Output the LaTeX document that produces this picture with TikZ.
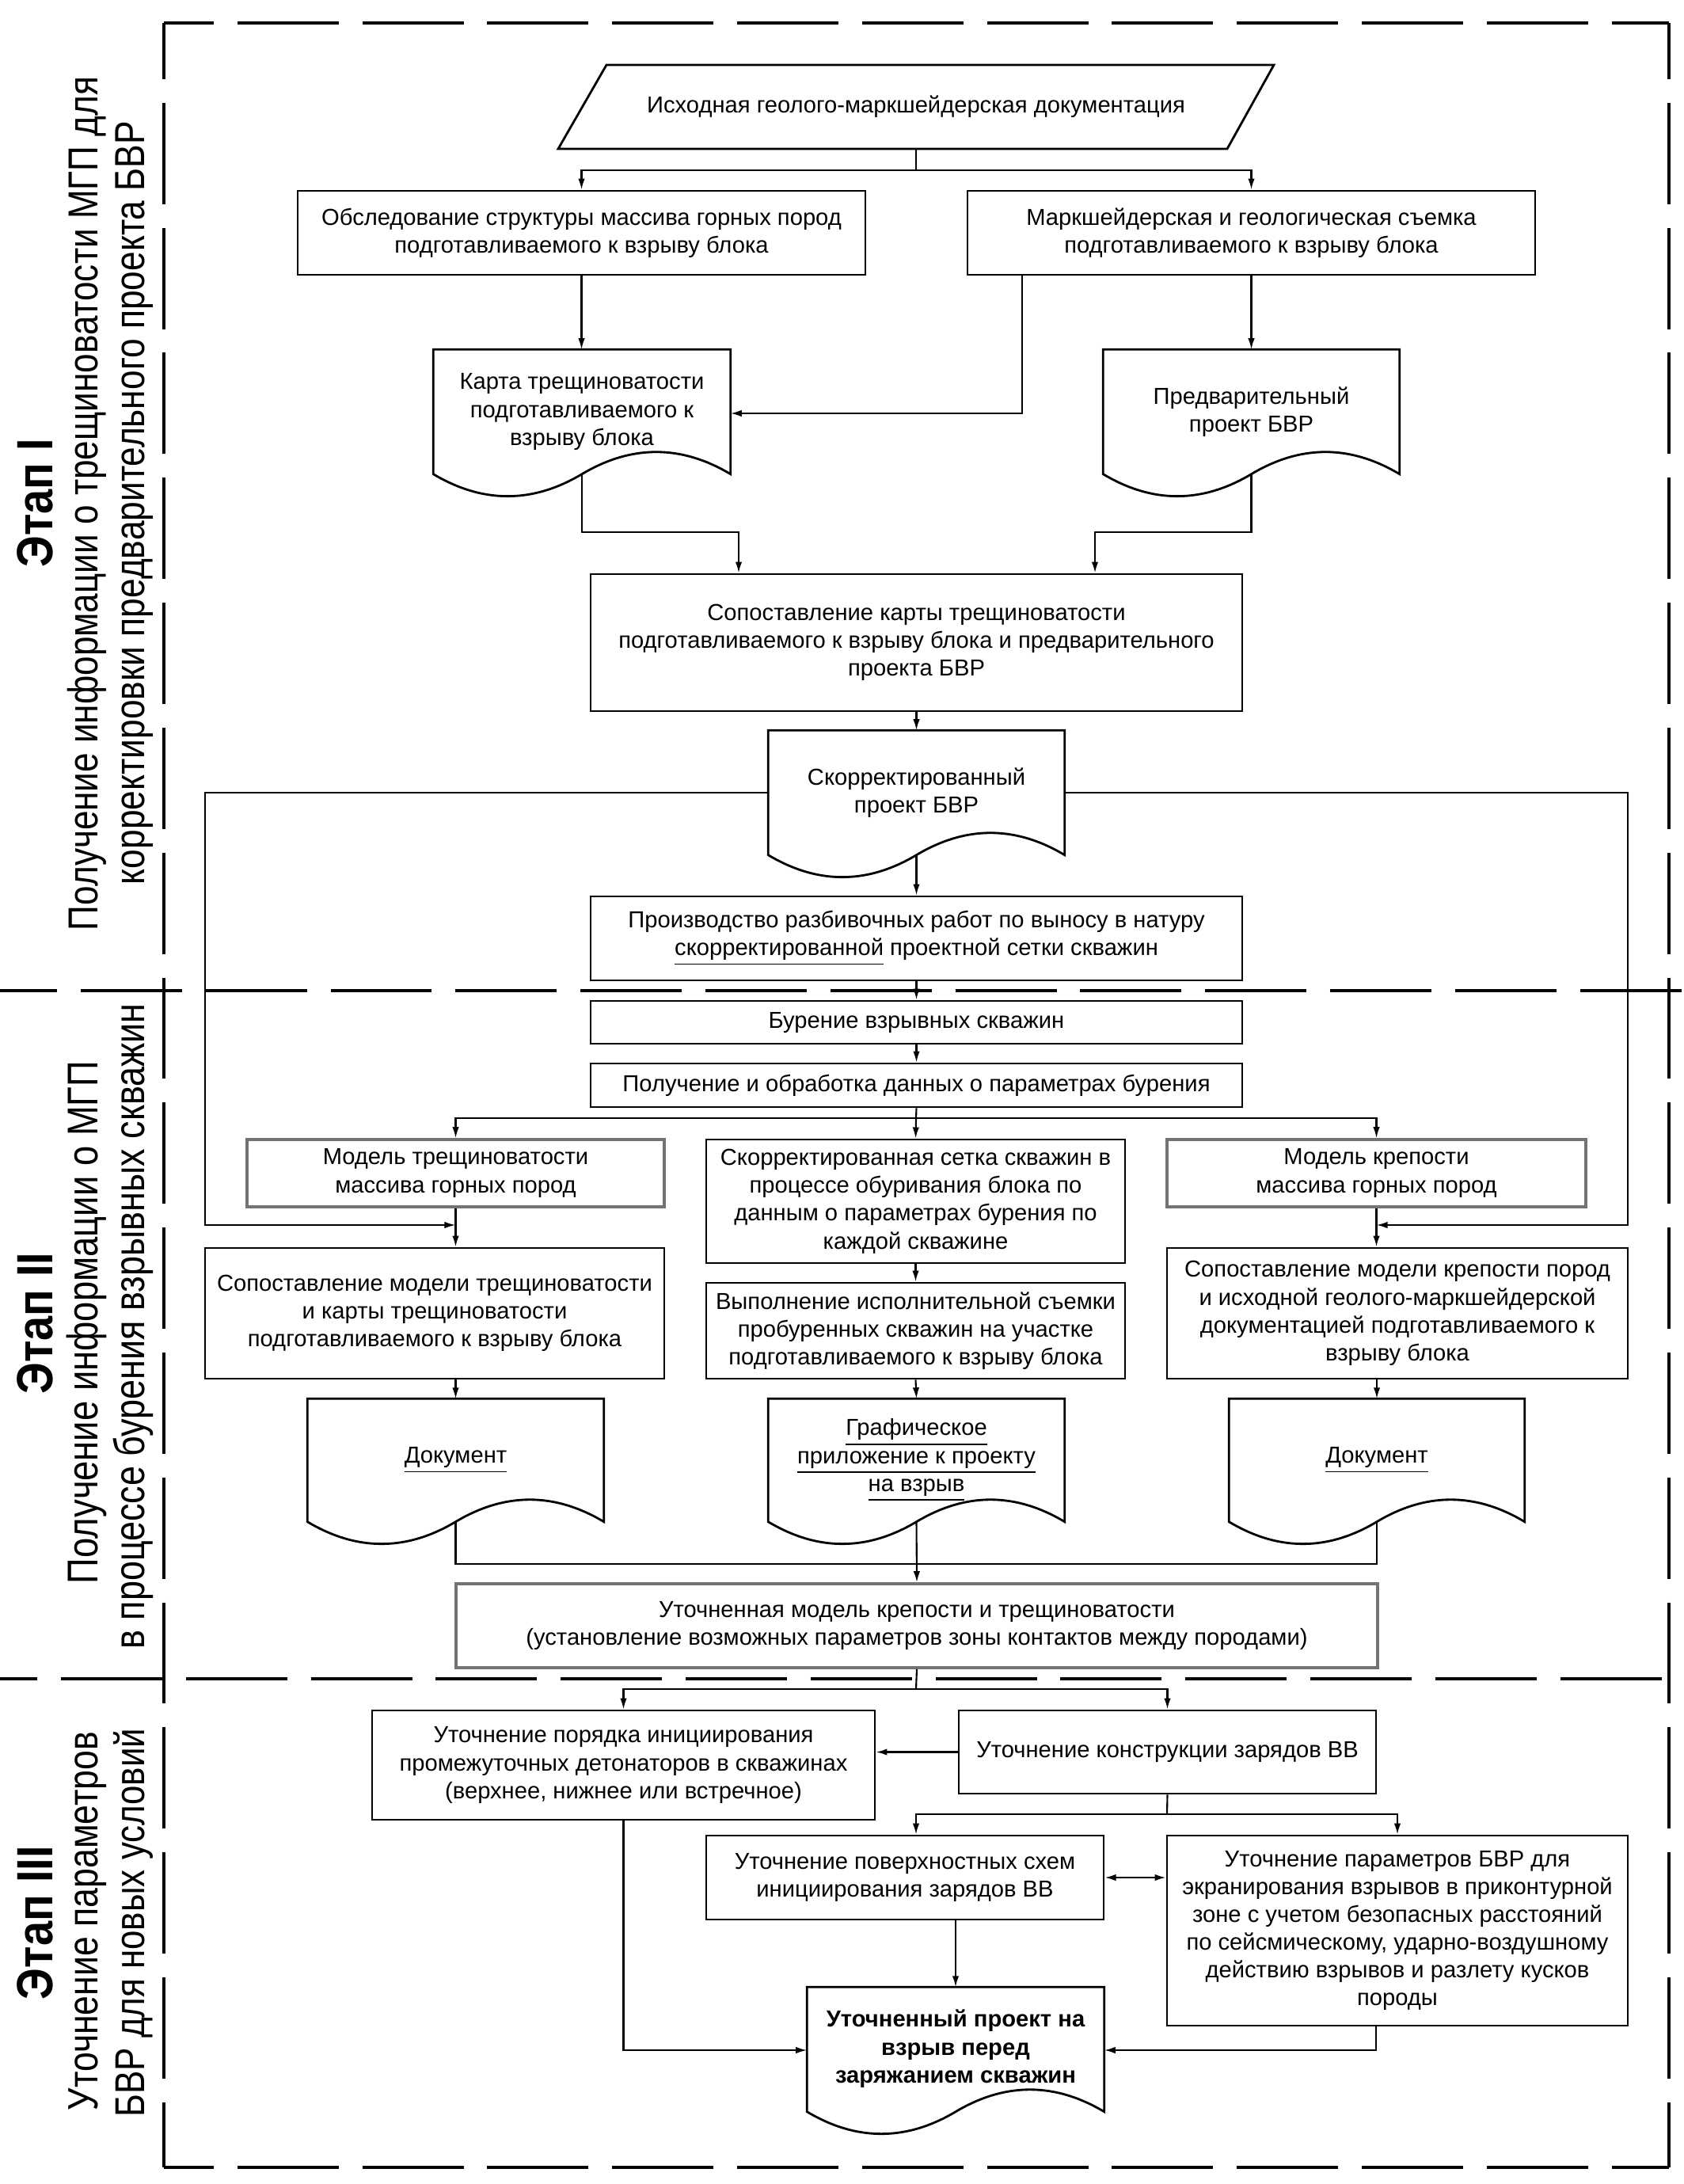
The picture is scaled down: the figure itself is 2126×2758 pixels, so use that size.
\documentclass[tikz,border=0pt]{standalone}
\usepackage{fontspec}
\setmainfont{Liberation Sans}
\usetikzlibrary{arrows.meta,calc}
\definecolor{grayb}{RGB}{115,115,115}
\newcommand\mkbox[7]{%
  \pgfmathsetmacro\bw{(#5-#3)*0.1}%
  \pgfmathsetmacro\bh{(#6-#4)*0.1}%
  \node[#1, minimum width=\bw mm, minimum height=\bh mm] (#2) at ({(#3+#5)/2},{(#4+#6)/2}) {#7};}
\newcommand\docdraw[1]{%
  \draw[docline] let \p1=(#1.south west), \p2=(#1.north east), \n1={(\x2-\x1)/6} in
    (\p1) -- (\x1,\y2) -- (\p2) -- (\x2,\y1)
    .. controls ({\x2-\n1},{\y1+10.6pt}) and ({\x2-2*\n1},{\y1+10.6pt}) .. ({\x2-3*\n1},\y1)
    .. controls ({\x2-4*\n1},{\y1-10.6pt}) and ({\x2-5*\n1},{\y1-10.6pt}) .. (\p1) -- cycle;}
\tikzset{
  txt/.style={font=\fontsize{8.3pt}{10pt}\selectfont},
  bx/.style={txt, draw, line width=0.8pt, inner sep=0pt, align=center},
  gbx/.style={bx, draw=grayb, line width=1pt},
  dc/.style={txt, inner sep=0pt, align=center},
  docline/.style={line width=0.8pt},
  ln/.style={line width=0.6pt},
  arr/.style={ln, -{Latex[length=4pt,width=2.4pt]}},
  arrb/.style={ln, {Latex[length=4pt,width=2.4pt]}-{Latex[length=4pt,width=2.4pt]}},
  dl/.style={line width=0.9pt, dash pattern=on 36.4pt off 8.5pt},
  stg/.style={rotate=90, anchor=base, inner sep=0pt, font=\fontsize{15.9pt}{16pt}\selectfont\bfseries},
  stgd/.style={rotate=90, anchor=base, inner sep=0pt, font=\fontsize{13pt}{14pt}\selectfont},
}
\begin{document}
\begin{tikzpicture}[x=0.1mm,y=-0.1mm]
\useasboundingbox (0,0) rectangle (2126,2758);
% frame and stage separators
\draw[dl, dash phase=18.5pt] (207,29) -- (2108,29);
\draw[dl, dash phase=16.2pt] (207,29) -- (207,2737);
\draw[dl, dash phase=16.2pt] (2108,29) -- (2108,2737);
\draw[dl, dash phase=18.5pt] (207,2737) -- (2108,2737);
\draw[dl, dash phase=15.9pt] (0,1251) -- (2126,1251);
\draw[dl, dash phase=23pt] (0,2120) -- (2126,2120);
% stage labels
\node[stg] (et1) at (66,635) {\scalebox{1}[1.15]{Этап I}};
\node[stgd] (d1a) at (123,636) {\scalebox{1}[1.2]{\resizebox{107.8mm}{!}{Получение информации о трещиноватости МГП для}}};
\node[stgd] (d1b) at (182,635) {\scalebox{1}[1.2]{\resizebox{96.4mm}{!}{корректировки предварительного проекта БВР}}};
\node[stg] (et2) at (66,1671) {\scalebox{1}[1.15]{Этап II}};
\node[stgd] (d2a) at (123,1670) {\scalebox{1}[1.2]{\resizebox{66mm}{!}{Получение информации о МГП}}};
\node[stgd] (d2b) at (182,1675) {\scalebox{1}[1.2]{\resizebox{81.5mm}{!}{в процессе бурения взрывных скважин}}};
\node[stg] (et3) at (66,2428) {\scalebox{1}[1.15]{Этап III}};
\node[stgd] (d3a) at (123,2426) {\scalebox{1}[1.2]{\resizebox{47.8mm}{!}{Уточнение параметров}}};
\node[stgd] (d3b) at (182,2428) {\scalebox{1}[1.2]{\resizebox{49.1mm}{!}{БВР для новых условий}}};
% stage I
\draw[docline] (766,82) -- (1609,82) -- (1550,188) -- (705,188) -- cycle;
\mkbox{dc}{src}{705}{82}{1609}{188}{Исходная геолого-маркшейдерская документация}
\mkbox{bx}{obs}{376}{241}{1093}{347}{Обследование структуры массива горных пород\\подготавливаемого к взрыву блока}
\mkbox{bx}{mar}{1222}{241}{1939}{347}{Маркшейдерская и геологическая съемка\\подготавливаемого к взрыву блока}
\mkbox{dc}{karta}{548}{442}{922}{598}{Карта трещиноватости\\подготавливаемого к\\взрыву блока}
\docdraw{karta}
\mkbox{dc}{pred}{1394}{442}{1767}{598}{Предварительный\\проект БВР}
\docdraw{pred}
\mkbox{bx}{sop}{746}{725}{1569}{898}{Сопоставление карты трещиноватости\\подготавливаемого к взрыву блока и предварительного\\проекта БВР}
\mkbox{dc}{skor}{971}{923}{1344}{1079}{Скорректированный\\проект БВР}
\docdraw{skor}
\mkbox{bx}{proizv}{746}{1132}{1569}{1238}{Производство разбивочных работ по выносу в натуру\\\underline{скорректированной} проектной сетки скважин}
% stage II
\mkbox{bx}{bur}{746}{1264}{1569}{1318}{Бурение взрывных скважин}
\mkbox{bx}{pol}{746}{1343}{1569}{1398}{Получение и обработка данных о параметрах бурения}
\mkbox{gbx}{modT}{312}{1439}{839}{1524}{Модель трещиноватости\\массива горных пород}
\mkbox{bx}{setka}{892}{1439}{1421}{1595}{Скорректированная сетка скважин в\\процессе обуривания блока по\\данным о параметрах бурения по\\каждой скважине}
\mkbox{gbx}{modK}{1474}{1439}{2003}{1524}{Модель крепости\\массива горных пород}
\mkbox{bx}{sopT}{259}{1576}{839}{1741}{Сопоставление модели трещиноватости\\и карты трещиноватости\\подготавливаемого к взрыву блока}
\mkbox{bx}{vyp}{892}{1620}{1421}{1741}{Выполнение исполнительной съемки\\пробуренных скважин на участке\\подготавливаемого к взрыву блока}
\mkbox{bx}{sopK}{1474}{1576}{2056}{1741}{Сопоставление модели крепости пород\\и исходной геолого-маркшейдерской\\документацией подготавливаемого к\\взрыву блока}
\mkbox{dc}{docL}{389}{1767}{762}{1921}{\underline{Документ}}
\docdraw{docL}
\mkbox{dc}{docM}{971}{1767}{1344}{1921}{\underline{Графическое}\\\underline{приложение к проекту}\\\underline{на взрыв}}
\docdraw{docM}
\mkbox{dc}{docR}{1553}{1767}{1925}{1921}{\underline{Документ}}
\docdraw{docR}
\mkbox{gbx}{utm}{576}{2000}{1740}{2106}{Уточненная модель крепости и трещиноватости\\(установление возможных параметров зоны контактов между породами)}
% stage III
\mkbox{bx}{por}{470}{2160}{1105}{2298}{Уточнение порядка инициирования\\промежуточных детонаторов в скважинах\\(верхнее, нижнее или встречное)}
\mkbox{bx}{kon}{1211}{2160}{1738}{2265}{Уточнение конструкции зарядов ВВ}
\mkbox{bx}{pov}{892}{2318}{1394}{2424}{Уточнение поверхностных схем\\инициирования зарядов ВВ}
\mkbox{bx}{parb}{1474}{2318}{2056}{2558}{Уточнение параметров БВР для\\экранирования взрывов в приконтурной\\зоне с учетом безопасных расстояний\\по сейсмическому, ударно-воздушному\\действию взрывов и разлету кусков\\породы}
\mkbox{dc, font=\fontsize{8.3pt}{10pt}\selectfont\bfseries}{fin}{1020}{2510}{1394}{2666}{\raisebox{1.1mm}{\begin{tabular}{@{}c@{}}Уточненный проект на\\взрыв перед\\заряжанием скважин\end{tabular}}}
\docdraw{fin}
% connectors stage I
\coordinate (bus1) at (1157,215);
\draw[ln] (src.south) -- (bus1);
\draw[arr] (bus1) -| (obs.north);
\draw[arr] (bus1) -| (mar.north);
\draw[arr] (obs.south) -- (obs.south |- karta.north);
\coordinate (mx) at (1291,522);
\draw[arr] (mar.south -| mx) |- (karta.east |- mx);
\draw[arr] (mar.south) -- (pred.north);
\coordinate (s1) at (933,672);
\coordinate (s2) at (1383,672);
\draw[arr] (karta.south) |- (s1) -- (s1 |- sop.north);
\draw[arr] (pred.south) |- (s2) -- (s2 |- sop.north);
\draw[arr] (sop.south) -- (skor.north);
\draw[arr] (skor.south) -- (proizv.north);
\coordinate (fl) at (259,1547);
\coordinate (fr) at (2056,1547);
\draw[arr] (skor.west) -| (fl) -- (fl -| modT.south);
\draw[arr] (skor.east) -| (fr) -- (fr -| modK.south);
% connectors stage II
\draw[arr] (proizv.south) -- (bur.north);
\draw[arr] (bur.south) -- (pol.north);
\coordinate (bus2) at (1157,1412);
\draw[ln] (pol.south) -- (bus2);
\draw[arr] (bus2) -| (modT.north);
\draw[arr] (bus2) -| (modK.north);
\draw[arr] (bus2) -- (setka.north);
\draw[arr] (modT.south) -- (modT.south |- sopT.north);
\draw[arr] (modK.south) -- (modK.south |- sopK.north);
\draw[arr] (setka.south) -- (vyp.north);
\draw[arr] (sopT.south -| docL.north) -- (docL.north);
\draw[arr] (vyp.south) -- (docM.north);
\draw[arr] (sopK.south -| docR.north) -- (docR.north);
\coordinate (bus3) at (1157,1975);
\draw[ln] (docL.south) |- (bus3);
\draw[ln] (docR.south) |- (bus3);
\draw[arr] (docM.south) -- (utm.north);
% connectors stage III
\coordinate (bus4) at (1157,2133);
\draw[ln] (utm.south) -- (bus4);
\draw[arr] (bus4) -| (por.north);
\draw[arr] (bus4) -| (kon.north);
\draw[arr] (kon.west) -- (por.east |- kon.west);
\coordinate (bus5) at (1474,2291);
\coordinate (p5) at (1157,2291);
\draw[ln] (kon.south) -- (bus5);
\draw[arr] (bus5) -- (p5) -- (p5 |- pov.north);
\draw[arr] (bus5) -| (parb.north);
\draw[arrb] (pov.east) -- (parb.west |- pov.east);
\draw[arr] (pov.south -| fin.north) -- (fin.north);
\coordinate (q2) at (1738,2589);
\draw[arr] (por.south) |- (fin.west |- q2);
\draw[arr] (parb.south -| q2) |- (fin.east |- q2);
\end{tikzpicture}
\end{document}
